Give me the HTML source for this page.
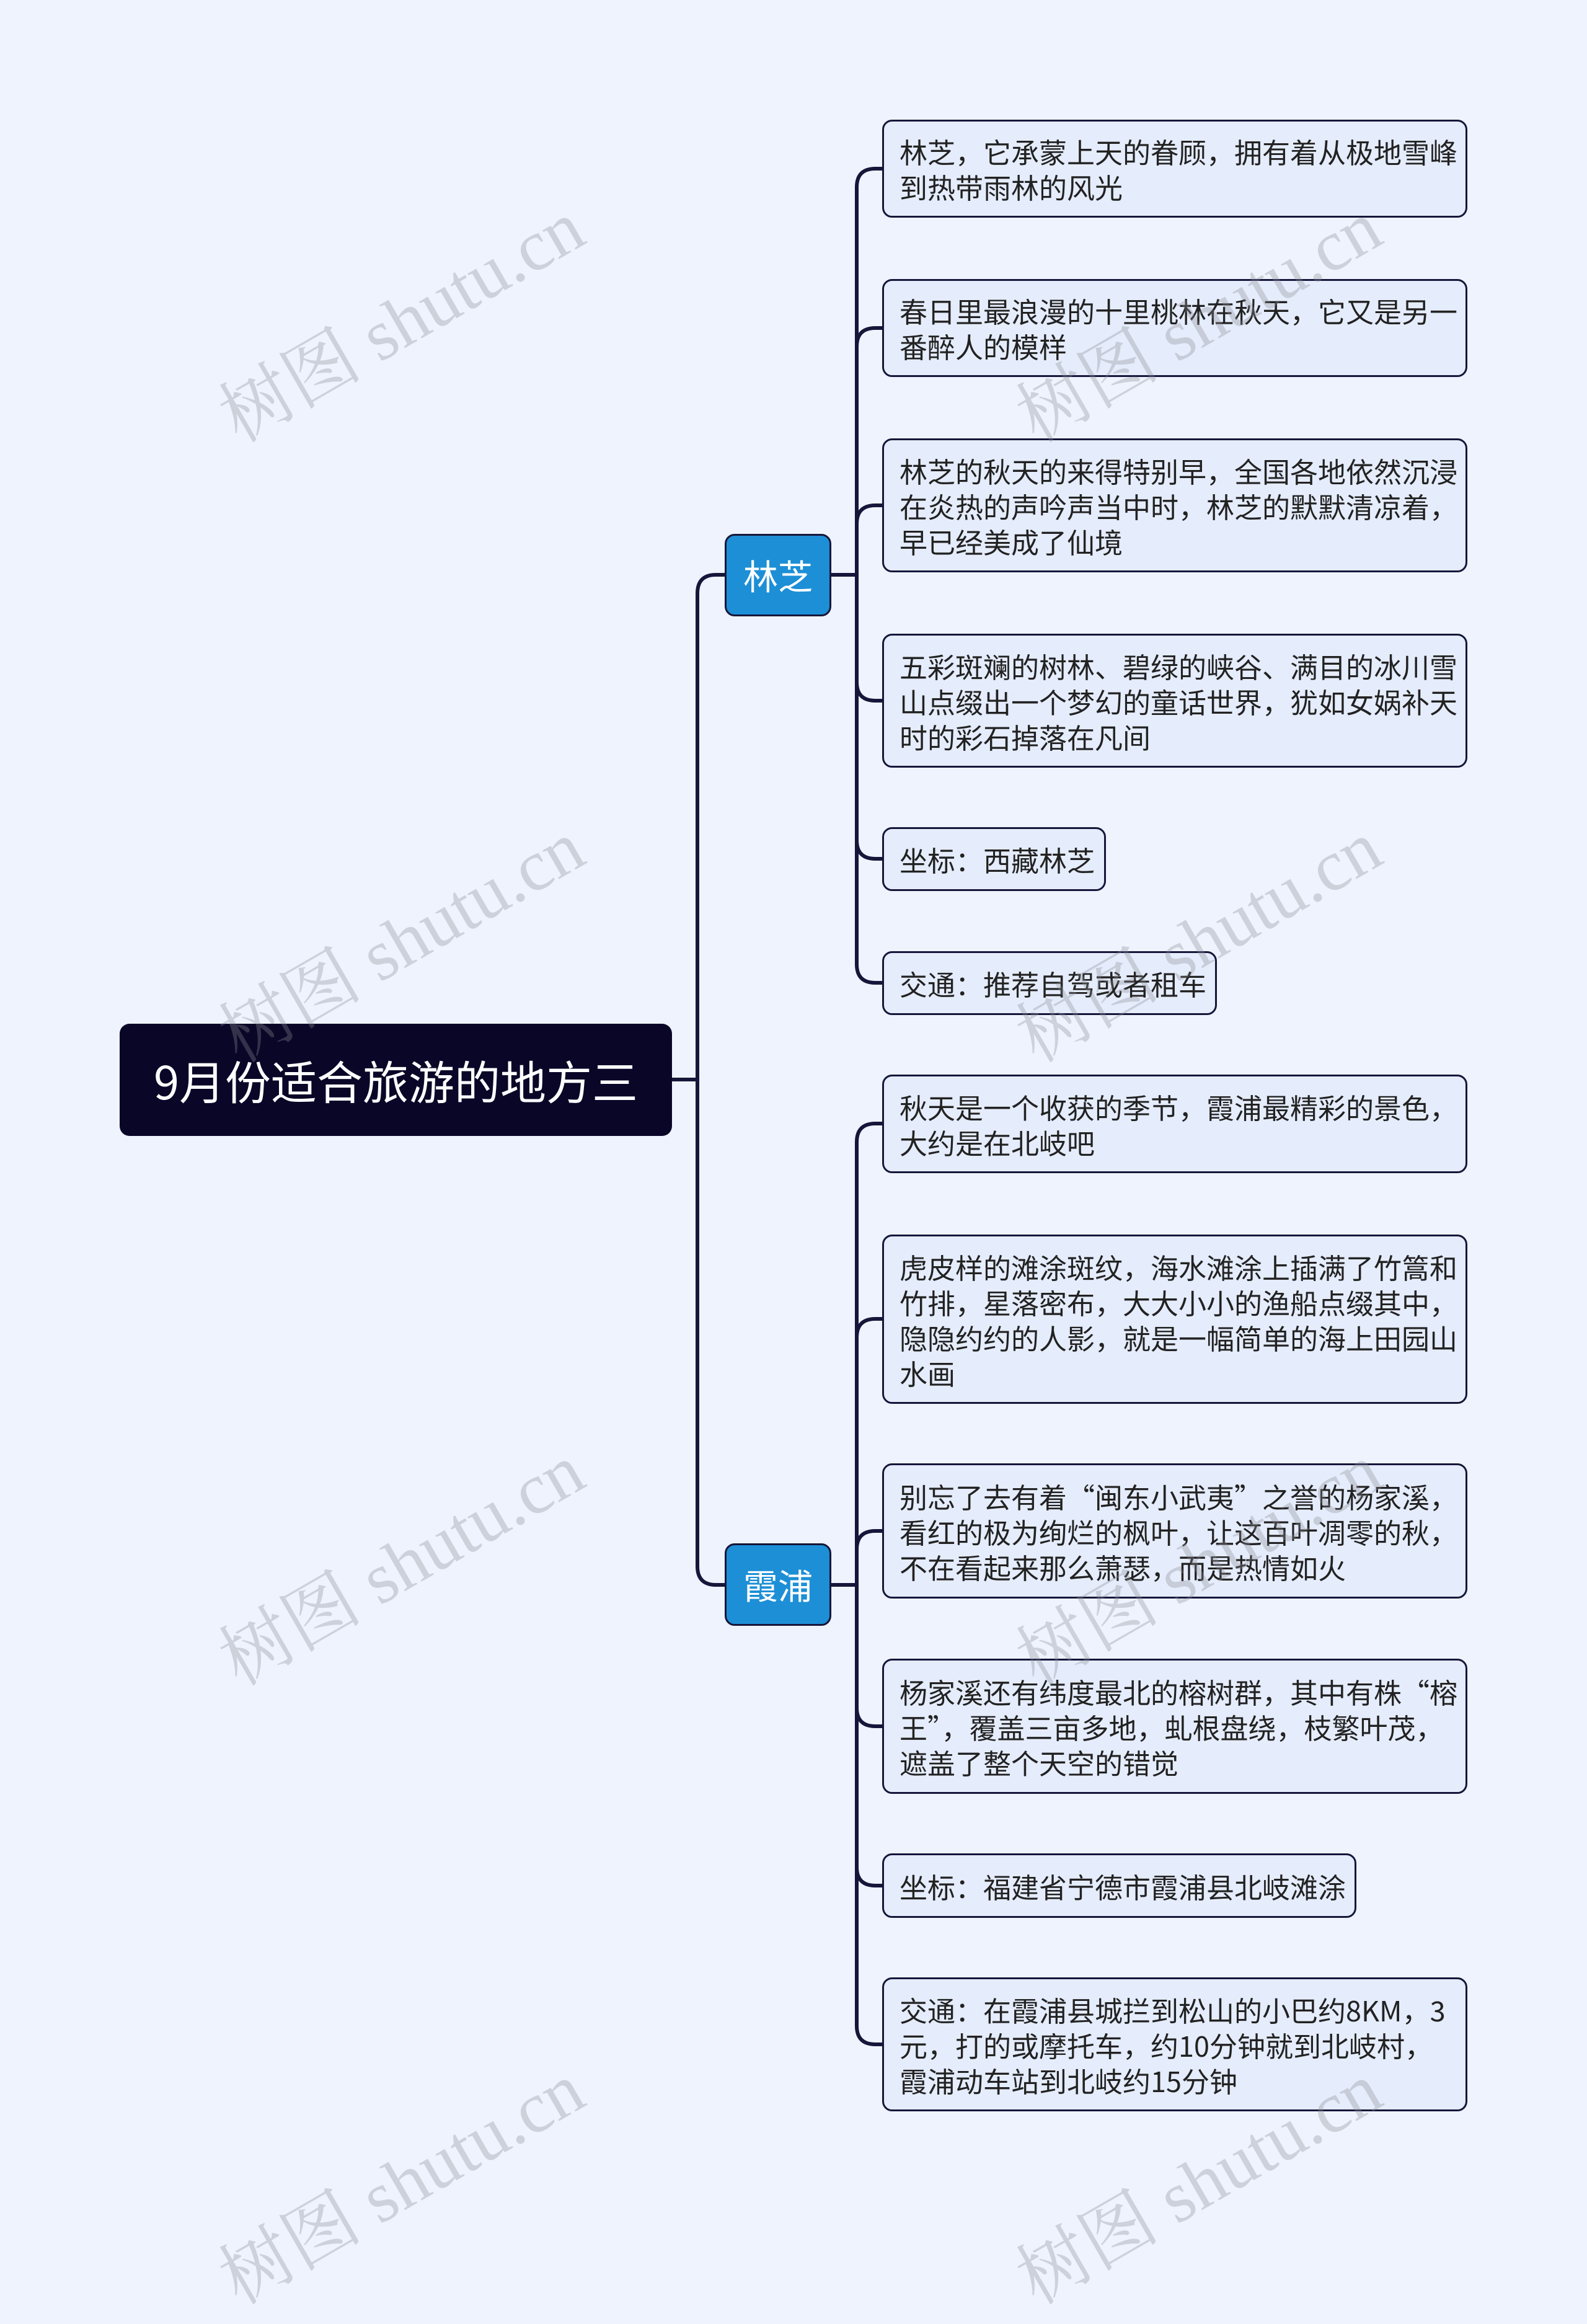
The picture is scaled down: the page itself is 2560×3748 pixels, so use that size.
<!DOCTYPE html>
<html><head><meta charset="utf-8"><style>
html,body{margin:0;padding:0}
body{width:2560px;height:3599px;background:#eef3fd;position:relative;overflow:hidden;font-family:"Noto Sans CJK SC","Liberation Sans",sans-serif}
.leaf{position:absolute;left:1423px;box-sizing:border-box;border:3px solid #16163a;border-radius:16px;background:#e5ecfb;color:#222;font-size:45px;line-height:57px;padding:0 8px 0 25px;display:flex;align-items:center;line-break:anywhere}
.node{position:absolute;box-sizing:border-box;border:3px solid #16163a;border-radius:16px;background:#1d8fd6;color:#fff;font-size:56px;display:flex;align-items:center;justify-content:center}
.wm{position:absolute;font-family:"Liberation Serif","Noto Serif CJK SC",serif;font-size:116px;color:rgba(140,140,150,0.33);transform:translate(-50%,-50%) rotate(-30deg);white-space:nowrap}
</style></head><body>
<svg width="2560" height="3599" style="position:absolute;left:0;top:0" fill="none" stroke="#16163a" stroke-width="6">
<path d="M1084,1741 H1125"/>
<path d="M1125,1741 V957 Q1125,927 1155,927 H1169"/>
<path d="M1125,1741 V2526 Q1125,2556 1155,2556 H1169"/>
<path d="M1341,927 H1382"/>
<path d="M1382,927 V302 Q1382,272 1412,272 H1423"/>
<path d="M1382,927 V559 Q1382,529 1412,529 H1423"/>
<path d="M1382,927 V845 Q1382,815 1412,815 H1423"/>
<path d="M1382,927 V1100 Q1382,1130 1412,1130 H1423"/>
<path d="M1382,927 V1355 Q1382,1385 1412,1385 H1423"/>
<path d="M1382,927 V1555 Q1382,1585 1412,1585 H1423"/>
<path d="M1341,2556 H1382"/>
<path d="M1382,2556 V1842 Q1382,1812 1412,1812 H1423"/>
<path d="M1382,2556 V2157 Q1382,2127 1412,2127 H1423"/>
<path d="M1382,2556 V2499 Q1382,2469 1412,2469 H1423"/>
<path d="M1382,2556 V2754 Q1382,2784 1412,2784 H1423"/>
<path d="M1382,2556 V3011 Q1382,3041 1412,3041 H1423"/>
<path d="M1382,2556 V3267 Q1382,3297 1412,3297 H1423"/>
</svg>
<div style="position:absolute;left:193px;top:1651px;width:891px;height:181px;box-sizing:border-box;background:#0a0628;border-radius:16px;color:#fff;font-size:74px;display:flex;align-items:center;justify-content:center">9月份适合旅游的地方三</div>
<div class="node" style="left:1169px;top:861px;width:172px;height:133px">林芝</div>
<div class="node" style="left:1169px;top:2489px;width:172px;height:133px">霞浦</div>

<div class="leaf" style="top:193px;width:944px;height:158px">林芝，它承蒙上天的眷顾，拥有着从极地雪峰到热带雨林的风光</div>
<div class="leaf" style="top:450px;width:944px;height:158px">春日里最浪漫的十里桃林在秋天，它又是另一番醉人的模样</div>
<div class="leaf" style="top:707px;width:944px;height:216px">林芝的秋天的来得特别早，全国各地依然沉浸在炎热的声吟声当中时，林芝的默默清凉着，早已经美成了仙境</div>
<div class="leaf" style="top:1022px;width:944px;height:216px">五彩斑斓的树林、碧绿的峡谷、满目的冰川雪山点缀出一个梦幻的童话世界，犹如女娲补天时的彩石掉落在凡间</div>
<div class="leaf" style="top:1334px;width:361px;height:103px">坐标：西藏林芝</div>
<div class="leaf" style="top:1534px;width:540px;height:103px">交通：推荐自驾或者租车</div>

<div class="leaf" style="top:1733px;width:944px;height:159px">秋天是一个收获的季节，霞浦最精彩的景色，<br>大约是在北岐吧</div>
<div class="leaf" style="top:1991px;width:944px;height:273px">虎皮样的滩涂斑纹，海水滩涂上插满了竹篙和<br>竹排，星落密布，大大小小的渔船点缀其中，<br>隐隐约约的人影，就是一幅简单的海上田园山<br>水画</div>
<div class="leaf" style="top:2360px;width:944px;height:218px">别忘了去有着“闽东小武夷”之誉的杨家溪，<br>看红的极为绚烂的枫叶，让这百叶凋零的秋，<br>不在看起来那么萧瑟，而是热情如火</div>
<div class="leaf" style="top:2675px;width:944px;height:218px">杨家溪还有纬度最北的榕树群，其中有株“榕<br>王”，覆盖三亩多地，虬根盘绕，枝繁叶茂，<br>遮盖了整个天空的错觉</div>
<div class="leaf" style="top:2989px;width:765px;height:104px">坐标：福建省宁德市霞浦县北岐滩涂</div>
<div class="leaf" style="top:3189px;width:944px;height:216px">交通：在霞浦县城拦到松山的小巴约8KM，3<br>元，打的或摩托车，约10分钟就到北岐村，<br>霞浦动车站到北岐约15分钟</div>

<div class="wm" style="left:643px;top:510px">树图 shutu.cn</div>
<div class="wm" style="left:1929px;top:510px">树图 shutu.cn</div>
<div class="wm" style="left:643px;top:1510px">树图 shutu.cn</div>
<div class="wm" style="left:1929px;top:1510px">树图 shutu.cn</div>
<div class="wm" style="left:643px;top:2515px">树图 shutu.cn</div>
<div class="wm" style="left:1929px;top:2515px">树图 shutu.cn</div>
<div class="wm" style="left:643px;top:3513px">树图 shutu.cn</div>
<div class="wm" style="left:1929px;top:3513px">树图 shutu.cn</div>
</body></html>
